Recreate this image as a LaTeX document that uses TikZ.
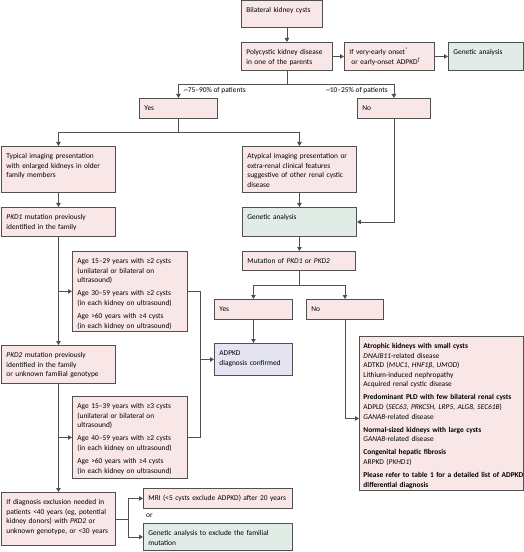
\documentclass[tikz,border=0pt]{standalone}
\usepackage{fontspec}
\setmainfont{Carlito}
\usetikzlibrary{arrows.meta}

\definecolor{pinkfill}{RGB}{249,231,231}
\definecolor{greenfill}{RGB}{226,236,231}
\definecolor{bluefill}{RGB}{228,228,243}
\definecolor{edge}{RGB}{80,80,80}

\tikzset{
	cell/.style={draw=edge, fill=#1, line width=0.9bp, anchor=north west, align=left,
		inner xsep=5bp, inner ysep=5bp, text height=7bp, font=\fontsize{7.4bp}{9.6bp}\selectfont},
	cell/.default=pinkfill,
	note/.style={inner sep=0pt, font=\fontsize{7.4bp}{9.6bp}\selectfont},
	link/.style={draw=edge, line width=0.9bp},
	arr/.style={link, -{Triangle[length=4bp,width=4.5bp]}},
}

\begin{document}
\begin{tikzpicture}[x=1bp,y=-1bp]
	\useasboundingbox (0,0) rectangle (524,552);
	
	%top row
	\node[cell, text width=71bp, text depth=10bp] (bilat) at (241,0.5) {Bilateral kidney cysts};
	\node[cell, text width=81bp, text depth=11bp] (parent) at (241,42) {Polycystic kidney disease\\in one of the parents};
	\node[cell, text width=80bp, text depth=11bp] (onset) at (344,42) {If very-early onset\textsuperscript{*}\\\hspace*{2bp}or early-onset ADPKD\textsuperscript{\textdagger}};
	\node[cell=greenfill, text width=65bp, text depth=11bp] (gentop) at (448,42) {Genetic analysis};
	\node[cell, text width=68bp, text depth=3bp] (yes) at (139,98) {Yes};
	\node[cell, text width=63bp, text depth=3bp] (no) at (357,98) {No};
	
	%left column
	\node[cell, text width=104bp, text depth=29bp] (typical) at (1,146) {Typical imaging presentation\\with enlarged kidneys in older\\family members};
	\node[cell, text width=104bp, text depth=12bp] (pkdone) at (1,207) {\textit{PKD1} mutation previously\\identified in the family};
	\node[cell, text width=105bp, text depth=63bp] (ageone) at (72,251) {Age 15–29 years with ≥2 cysts\\(unilateral or bilateral on\\ultrasound)\\[3.5bp]Age 30–59 years with ≥2 cysts\\(in each kidney on ultrasound)\\[3.5bp]Age >60 years with ≥4 cysts\\(in each kidney on ultrasound)};
	\node[cell, text width=104bp, text depth=21bp] (pkdtwo) at (1,345) {\textit{PKD2} mutation previously\\identified in the family\\or unknown familial genotype};
	\node[cell, text width=105bp, text depth=65bp] (agetwo) at (72,396) {Age 15–39 years with ≥3 cysts\\(unilateral or bilateral on\\ultrasound)\\[3.5bp]Age 40–59 years with ≥2 cysts\\(in each kidney on ultrasound)\\[3.5bp]Age >60 years with ≥4 cysts\\(in each kidney on ultrasound)};
	\node[cell, text width=104bp, text depth=36bp] (exclusion) at (1,492) {If diagnosis exclusion needed in\\patients <40 years (eg, potential\\kidney donors) with \textit{PKD2} or\\unknown genotype, or <30 years};
	\node[cell, text width=139bp, text depth=3bp] (mri) at (143,488) {\mbox{MRI (<5 cysts exclude ADPKD) after 20 years}};
	\node[cell=greenfill, text width=139bp, text depth=10bp] (genbottom) at (143,523) {\mbox{Genetic analysis to exclude the familial}\\mutation};
	\node[note, anchor=west] (orword) at (146,516) {or};
	
	%right column
	\node[cell, text width=104bp, text depth=29bp] (atypical) at (242,146) {Atypical imaging presentation or\\extra-renal clinical features\\suggestive of other renal cystic\\disease};
	\node[cell=greenfill, text width=104bp, text depth=12bp] (genmid) at (242,207) {Genetic analysis};
	\node[cell, text width=103bp, text depth=2bp] (mutation) at (242,251) {Mutation of \textit{PKD1} or \textit{PKD2}};
	\node[cell, text width=68bp, text depth=3bp] (yestwo) at (214,299) {Yes};
	\node[cell, text width=67bp, text depth=3bp] (notwo) at (306,299) {No};
	\node[cell=bluefill, text width=68bp, text depth=15bp] (confirmed) at (214,343) {ADPKD\\diagnosis confirmed};
	\node[cell, inner xsep=4bp, text width=156bp, text depth=137bp] (differential) at (359,336) {\textbf{Atrophic kidneys with small cysts}\\
		\textit{DNAJB11}-related disease\\
		ADTKD (\textit{MUC1, HNF1β, UMOD})\\
		Lithium-induced nephropathy\\
		Acquired renal cystic disease\\[3.5bp]
		\mbox{\textbf{Predominant PLD with few bilateral renal cysts}}\\
		\mbox{ADPLD (\textit{SEC63, PRKCSH, LRP5, ALG8, SEC61B})}\\
		\textit{GANAB}-related disease\\[3.5bp]
		\textbf{Normal-sized kidneys with large cysts}\\
		\textit{GANAB}-related disease\\[3.5bp]
		\textbf{Congenital hepatic fibrosis}\\
		ARPKD (\textit{PKHD1})\\[3.5bp]
		\mbox{\textbf{Please refer to table 1 for a detailed list of ADPKD}}\\
		\textbf{differential diagnosis}};
	
	%labels
	\node[note, anchor=west] (major) at (184,91) {\textasciitilde 75–90\% of patients};
	\node[note, anchor=east] (minor) at (388,91) {\textasciitilde 10–25\% of patients};
	
	%connectors top
	\draw[arr] (bilat.south -| parent.north) -- (parent.north);
	\draw[arr] (parent) -- (onset);
	\draw[arr] (onset) -- (gentop);
	\coordinate (split) at (parent.south |- 0,84);
	\draw[link] (parent.south) -- (split);
	\draw[arr] (split) -| (yes.north);
	\draw[arr] (split) -| (no.north);
	\coordinate (splityes) at (yes.south |- 0,132);
	\draw[link] (yes.south) -- (splityes);
	\draw[arr] (splityes) -| (typical.north);
	\draw[arr] (splityes) -| (atypical.north);
	
	%connectors left
	\draw[arr] (typical) -- (pkdone);
	\draw[arr] (pkdone.south) -- (pkdtwo.north);
	\draw[arr] (pkdone.south |- ageone.west) -- (ageone.west);
	\draw[arr] (pkdtwo.south) -- (exclusion.north);
	\draw[arr] (pkdtwo.south |- agetwo.west) -- (agetwo.west);
	\coordinate (join) at (confirmed.west -| 200,0);
	\draw[link] (ageone.east) -| (join);
	\draw[link] (agetwo.east) -| (join);
	\draw[arr] (join) -- (confirmed.west);
	\coordinate (splitexc) at (exclusion.east -| 128,0);
	\draw[link] (exclusion.east) -- (splitexc);
	\draw[arr] (splitexc) |- (mri.west);
	\draw[arr] (splitexc) |- (genbottom.west);
	
	%connectors right
	\draw[arr] (atypical) -- (genmid);
	\draw[arr] (no.south) |- (genmid.east);
	\draw[arr] (genmid.south) -- (genmid.south |- mutation.north);
	\coordinate (splitmut) at (mutation.south |- 0,285);
	\draw[link] (mutation.south) -- (splitmut);
	\draw[arr] (splitmut) -| (yestwo.north);
	\draw[arr] (splitmut) -| (notwo.north);
	\draw[arr] (yestwo) -- (confirmed);
	\draw[arr] (notwo.south) |- ([yshift=-5bp]differential.west);
	
\end{tikzpicture}
\end{document}
